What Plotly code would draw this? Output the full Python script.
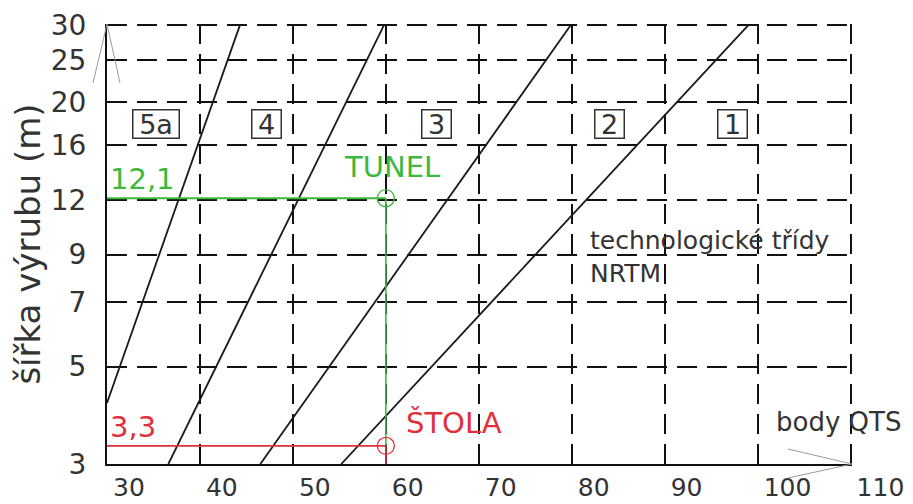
import numpy as np
import plotly.graph_objects as go

# ---- data ----
x_ticks = [30, 40, 50, 60, 70, 80, 90, 100, 110]
y_ticks = [3, 5, 7, 9, 12, 16, 20, 25, 30]

# class boundaries (body QTS, width of excavation in m)
boundary_x = [[30, 44.3], [36.6, 59.8], [46.5, 79.9], [55.2, 99.0]]
boundary_y = [[4.13, 30], [3, 30], [3, 30], [3, 30]]

class_labels = ["5a", "4", "3", "2", "1"]
class_label_x = [35.3, 47.2, 65.5, 84.1, 97.3]
class_label_y = 17.9

qts_value = 60
tunel_width = 12.1
stola_width = 3.3

x_min, x_max = 30, 110
y_min, y_max = 3, 30

FONT = "DejaVu Sans"
TXT = "#333333"
GREEN = "#3cb93c"
RED = "#e0303a"

fig = go.Figure()

for bx, by in zip(boundary_x, boundary_y):
    fig.add_trace(go.Scatter(x=bx, y=by, mode="lines",
                             line=dict(color="#1a1a1a", width=1.8),
                             showlegend=False, hoverinfo="skip"))

# TUNEL guide lines
fig.add_trace(go.Scatter(x=[x_min, qts_value], y=[tunel_width, tunel_width], mode="lines",
                         line=dict(color=GREEN, width=2), showlegend=False))
fig.add_trace(go.Scatter(x=[qts_value, qts_value], y=[tunel_width, stola_width], mode="lines",
                         line=dict(color=GREEN, width=1.6), showlegend=False))
# STOLA guide lines
fig.add_trace(go.Scatter(x=[x_min, qts_value], y=[stola_width, stola_width], mode="lines",
                         line=dict(color=RED, width=1.6), showlegend=False))
fig.add_trace(go.Scatter(x=[qts_value, qts_value], y=[stola_width, y_min], mode="lines",
                         line=dict(color=RED, width=1.6), showlegend=False))
# points
fig.add_trace(go.Scatter(x=[qts_value], y=[tunel_width], mode="markers",
                         marker=dict(symbol="circle-open", size=17, color=GREEN, line=dict(width=1.3)),
                         showlegend=False))
fig.add_trace(go.Scatter(x=[qts_value], y=[stola_width], mode="markers",
                         marker=dict(symbol="circle-open", size=17, color=RED, line=dict(width=1.3)),
                         showlegend=False))

ann = []
for lab, lx in zip(class_labels, class_label_x):
    ann.append(dict(x=lx, y=np.log10(class_label_y), text=lab, showarrow=False,
                    width=28 if len(lab) == 1 else 45, height=27,
                    font=dict(family=FONT, size=27, color=TXT),
                    bordercolor="#333333", borderwidth=1.5, borderpad=0, bgcolor="white"))

ann.append(dict(x=qts_value, y=np.log10(tunel_width), text="TUNEL", showarrow=False,
                xanchor="center", yanchor="bottom", xshift=6, yshift=12,
                font=dict(family=FONT, size=29, color=GREEN)))
ann.append(dict(x=x_min, y=np.log10(tunel_width), text="12,1", showarrow=False,
                xanchor="left", yanchor="bottom", xshift=1, yshift=0,
                font=dict(family=FONT, size=29, color=GREEN)))
ann.append(dict(x=qts_value, y=np.log10(stola_width), text="ŠTOLA", showarrow=False,
                xanchor="left", yanchor="bottom", xshift=18, yshift=4,
                font=dict(family=FONT, size=29, color=RED)))
ann.append(dict(x=x_min, y=np.log10(stola_width), text="3,3", showarrow=False,
                xanchor="left", yanchor="bottom", xshift=1, yshift=0,
                font=dict(family=FONT, size=29, color=RED)))
ann.append(dict(x=81.7, y=np.log10(8.9), text="technologické třídy<br>NRTM", showarrow=False,
                xanchor="left", yanchor="middle", align="left",
                font=dict(family=FONT, size=25, color=TXT)))
ann.append(dict(x=108.7, y=np.log10(3.74), text="body QTS", showarrow=False,
                xanchor="center", yanchor="middle",
                font=dict(family=FONT, size=26, color=TXT)))

W = 745.0
H = 440.0
shapes = [
    dict(type="line", xref="x domain", yref="y domain", x0=0, y0=1, x1=-14 / W, y1=1 - 59 / H,
         line=dict(color="#9a9a9a", width=1)),
    dict(type="line", xref="x domain", yref="y domain", x0=0, y0=1, x1=13 / W, y1=1 - 59 / H,
         line=dict(color="#9a9a9a", width=1)),
    dict(type="line", xref="x domain", yref="y domain", x0=1, y0=0, x1=1 - 64 / W, y1=15 / H,
         line=dict(color="#9a9a9a", width=1)),
    dict(type="line", xref="x domain", yref="y domain", x0=1, y0=0, x1=1 - 64 / W, y1=-14 / H,
         line=dict(color="#9a9a9a", width=1)),
]

# page body has an 8px margin, so the figure is sized/offset to compensate
fig.update_layout(
    width=905, height=496,
    margin=dict(l=99, r=61, t=16, b=40),
    paper_bgcolor="white", plot_bgcolor="white",
    font=dict(family=FONT, color=TXT),
    annotations=ann, shapes=shapes,
    xaxis=dict(range=[x_min, x_max + 0.15], tickvals=x_ticks, ticktext=[str(v) for v in x_ticks],
               showgrid=True, gridcolor="#111111", gridwidth=1.6, griddash="20px,10px",
               showline=True, linecolor="#111111", linewidth=2, zeroline=False,
               ticks="", ticklabelposition="outside right", ticklabelshift=5,
               ticklabelstandoff=0, automargin=False,
               tickfont=dict(family=FONT, size=25, color=TXT)),
    yaxis=dict(type="log", range=[np.log10(y_min), np.log10(y_max) + 0.0025], tickvals=y_ticks,
               ticktext=[str(v) for v in y_ticks],
               showgrid=True, gridcolor="#111111", gridwidth=1.6, griddash="20px,10px",
               showline=True, linecolor="#111111", linewidth=2, zeroline=False,
               ticks="", ticklabelstandoff=13, automargin=False,
               tickfont=dict(family=FONT, size=28, color=TXT),
               title=dict(text="šířka výrubu (m)", standoff=7,
                          font=dict(family=FONT, size=34, color=TXT))),
)

fig.write_html("out.html")
